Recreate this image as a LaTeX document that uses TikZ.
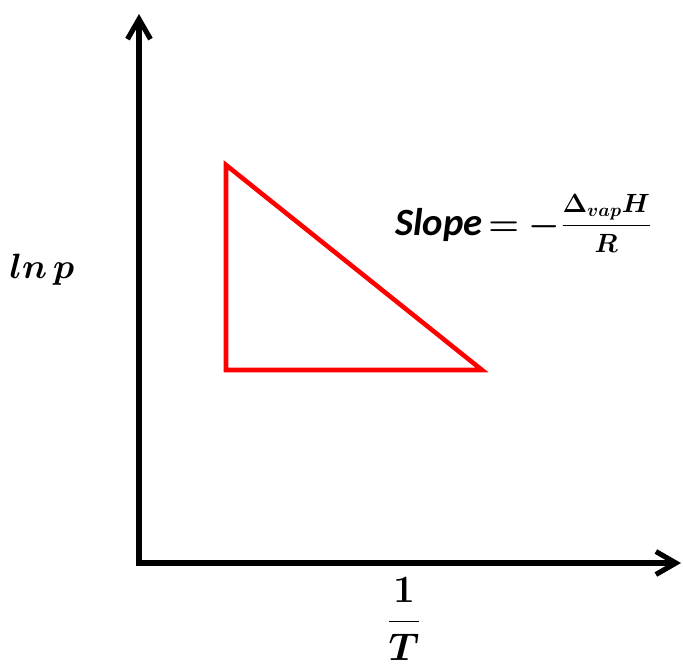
\documentclass[tikz,border=0pt]{standalone}
\usepackage{fix-cm}
\usepackage{amsmath}
\usepackage{bm}
\usepackage{fontspec}
\newfontfamily\slopefont{Carlito}
\usepackage{tikz}
\usetikzlibrary{positioning, arrows.meta}

\begin{document}
\begin{tikzpicture}[
    x=0.02cm, y=-0.02cm,
    eixo/.style={line width=2.9pt, {Straight Barb[length=0.4cm, width=0.46cm]}-{Straight Barb[length=0.4cm, width=0.46cm]}},
    tri/.style={draw=red, line width=2.6pt, line join=miter},
    rot/.style={font=\fontsize{20}{24}\selectfont, inner sep=0pt}
]
\useasboundingbox (0,0) rectangle (683,667);
% eixos
\coordinate (O) at (139,563);
\coordinate (ytop) at (139,14);
\coordinate (xend) at (681,563);
\draw[eixo] (ytop) -- (O) -- (xend);
% triangulo da inclinacao
\coordinate (A) at (226,165);
\coordinate (B) at (226,370);
\coordinate (C) at (482,370);
\draw[tri] (A) -- (B) -- (C) -- cycle;
% rotulos
\node[rot, font=\fontsize{22}{26}\selectfont] (invT) at (404,619) {$\displaystyle\boldsymbol{\frac{1}{T}}$};
\node[rot] (lnp) at (42,270) {$\boldsymbol{ln\,p}$};
\node[rot, anchor=base west] (slope) at (395,235) {{\slopefont\bfseries\itshape\fontsize{22}{26}\selectfont Slope}\,$\boldsymbol{=-}$\raisebox{1.5pt}{\fontsize{15}{18}\selectfont$\displaystyle\boldsymbol{\frac{\Delta_{vap}H}{R}}$}};
\end{tikzpicture}
\end{document}
